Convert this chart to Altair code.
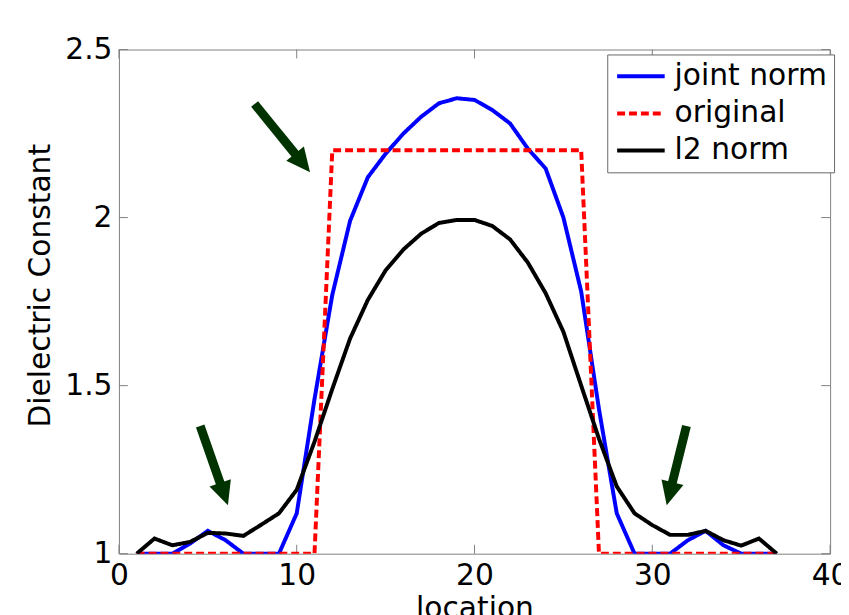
import altair as alt
import pandas as pd

# ---- data ----
location = [1, 2, 3, 4, 5, 6, 7, 8, 9, 10, 11, 12, 13, 14, 15, 16, 17, 18, 19,
            20, 21, 22, 23, 24, 25, 26, 27, 28, 29, 30, 31, 32, 33, 34, 35, 36, 37]
joint_norm = [1.0, 1.0, 1.0, 1.03, 1.068, 1.04, 1.0, 1.0, 1.0, 1.12, 1.46, 1.77,
              1.99, 2.12, 2.19, 2.25, 2.30, 2.34, 2.355, 2.35, 2.32, 2.28, 2.205,
              2.146, 2.0, 1.78, 1.43, 1.12, 1.0, 1.0, 1.0, 1.04, 1.068, 1.025,
              1.0, 1.0, 1.0]
original = [1.0, 1.0, 1.0, 1.0, 1.0, 1.0, 1.0, 1.0, 1.0, 1.0, 1.0, 2.2, 2.2, 2.2,
            2.2, 2.2, 2.2, 2.2, 2.2, 2.2, 2.2, 2.2, 2.2, 2.2, 2.2, 2.2, 1.0, 1.0,
            1.0, 1.0, 1.0, 1.0, 1.0, 1.0, 1.0, 1.0, 1.0]
l2_norm = [1.0, 1.045, 1.025, 1.035, 1.062, 1.06, 1.053, 1.086, 1.12, 1.19, 1.333,
           1.49, 1.64, 1.755, 1.843, 1.905, 1.952, 1.984, 1.993, 1.993, 1.975,
           1.935, 1.866, 1.775, 1.66, 1.50, 1.342, 1.20, 1.12, 1.085, 1.056,
           1.056, 1.068, 1.04, 1.024, 1.045, 1.0]

series_names = ["joint norm", "original", "l2 norm"]
series_colors = ["#0000ff", "#ff0000", "#000000"]
series_dash = [[1, 0], [8, 4], [1, 0]]

x_ticks = [0, 10, 20, 30, 40]
y_ticks = [1, 1.5, 2, 2.5]

# annotation arrows (data units): tail -> tip
arrow_tail_x = [7.63, 4.57, 31.92]
arrow_tail_y = [2.338, 1.38, 1.38]
arrow_tip_x = [10.75, 6.13, 30.81]
arrow_tip_y = [2.135, 1.144, 1.144]
arrow_angle = [141, 161, 194]

# ---- tables ----
rows = []
for name, vals in zip(series_names, [joint_norm, original, l2_norm]):
    for loc, v in zip(location, vals):
        rows.append({"location": loc, "value": v, "series": name})
df = pd.DataFrame(rows)

frac = 0.76
arrows = pd.DataFrame({
    "x0": arrow_tail_x, "y0": arrow_tail_y,
    "x1": [a + frac * (b - a) for a, b in zip(arrow_tail_x, arrow_tip_x)],
    "y1": [a + frac * (b - a) for a, b in zip(arrow_tail_y, arrow_tip_y)],
    "xt": arrow_tip_x, "yt": arrow_tip_y, "ang": arrow_angle,
})
xt_df = pd.DataFrame({"t": x_ticks})
yt_df = pd.DataFrame({"t": y_ticks})

W, H = 718, 509
FONT = "DejaVu Sans"
GRAY = "#808080"

xscale = alt.Scale(domain=[0, 40], nice=False, zero=False)
yscale = alt.Scale(domain=[1, 2.5], nice=False, zero=False)
xaxis = alt.Axis(values=x_ticks, format="d", grid=False, domain=False, ticks=False,
                 labelFontSize=30, labelFont=FONT, labelColor="black", labelPadding=7,
                 labelFlush=False, labelOverlap=False,
                 title="location", titleFontSize=30, titleFont=FONT,
                 titleFontWeight="normal", titleColor="black", titleY=40,
                 titleBaseline="top")
yaxis = alt.Axis(values=y_ticks, format="~g", grid=False, domain=False, ticks=False,
                 labelFontSize=30, labelFont=FONT, labelColor="black", labelPadding=7,
                 labelFlush=False, labelOverlap=False,
                 title="Dielectric Constant", titleFontSize=30, titleFont=FONT,
                 titleFontWeight="normal", titleColor="black", titleX=-64, titleY=238,
                 titleAngle=270, titleBaseline="bottom")

legend = alt.Legend(orient="none", legendX=493, legendY=5, title=None,
                    symbolType="M-1,0L3,0", symbolSize=576, symbolStrokeWidth=4,
                    labelFontSize=30, labelFont=FONT, labelColor="black", labelLimit=0,
                    labelOffset=31, padding=7, rowPadding=7.5, strokeColor="#666666",
                    fillColor="white", cornerRadius=0)

color = alt.Color("series:N", scale=alt.Scale(domain=series_names, range=series_colors),
                  legend=legend)
dash = alt.StrokeDash("series:N", scale=alt.Scale(domain=series_names, range=series_dash),
                      legend=legend)

base = alt.Chart(df).mark_line(strokeWidth=4, clip=True).encode(
    x=alt.X("location:Q", scale=xscale, axis=xaxis),
    y=alt.Y("value:Q", scale=yscale, axis=yaxis),
    color=color,
    strokeDash=dash,
)
lines = [base.transform_filter(alt.datum.series == n) for n in series_names]

xticks_b = alt.Chart(xt_df).mark_rule(color=GRAY, strokeWidth=1).encode(
    x=alt.X("t:Q", scale=xscale, axis=xaxis), y=alt.value(H), y2=alt.value(H - 9))
xticks_t = alt.Chart(xt_df).mark_rule(color=GRAY, strokeWidth=1).encode(
    x=alt.X("t:Q", scale=xscale, axis=xaxis), y=alt.value(0), y2=alt.value(9))
yticks_l = alt.Chart(yt_df).mark_rule(color=GRAY, strokeWidth=1).encode(
    y=alt.Y("t:Q", scale=yscale, axis=yaxis), x=alt.value(0), x2=alt.value(9))
yticks_r = alt.Chart(yt_df).mark_rule(color=GRAY, strokeWidth=1).encode(
    y=alt.Y("t:Q", scale=yscale, axis=yaxis), x=alt.value(W), x2=alt.value(W - 9))

shafts = alt.Chart(arrows).mark_rule(color="#003300", strokeWidth=9, strokeCap="butt").encode(
    x=alt.X("x0:Q", scale=xscale, axis=xaxis), y=alt.Y("y0:Q", scale=yscale, axis=yaxis),
    x2="x1:Q", y2="y1:Q")
heads = alt.Chart(arrows).mark_point(shape="M0,0L-0.95,2L0.95,2Z", filled=True,
                                     size=576, color="#003300", opacity=1).encode(
    x=alt.X("xt:Q", scale=xscale, axis=xaxis), y=alt.Y("yt:Q", scale=yscale, axis=yaxis),
    angle=alt.Angle("ang:Q", scale=None))

chart = alt.layer(xticks_b, xticks_t, yticks_l, yticks_r, *lines, shafts, heads).properties(
    width=W, height=H,
    autosize=alt.AutoSizeParams(type="none"),
    padding={"left": 112, "top": 39, "right": 11, "bottom": 60},
    background="white",
).configure(font=FONT).configure_view(stroke=GRAY, strokeWidth=1)

chart.save("out.html", embed_options={"renderer": "svg", "actions": False})
